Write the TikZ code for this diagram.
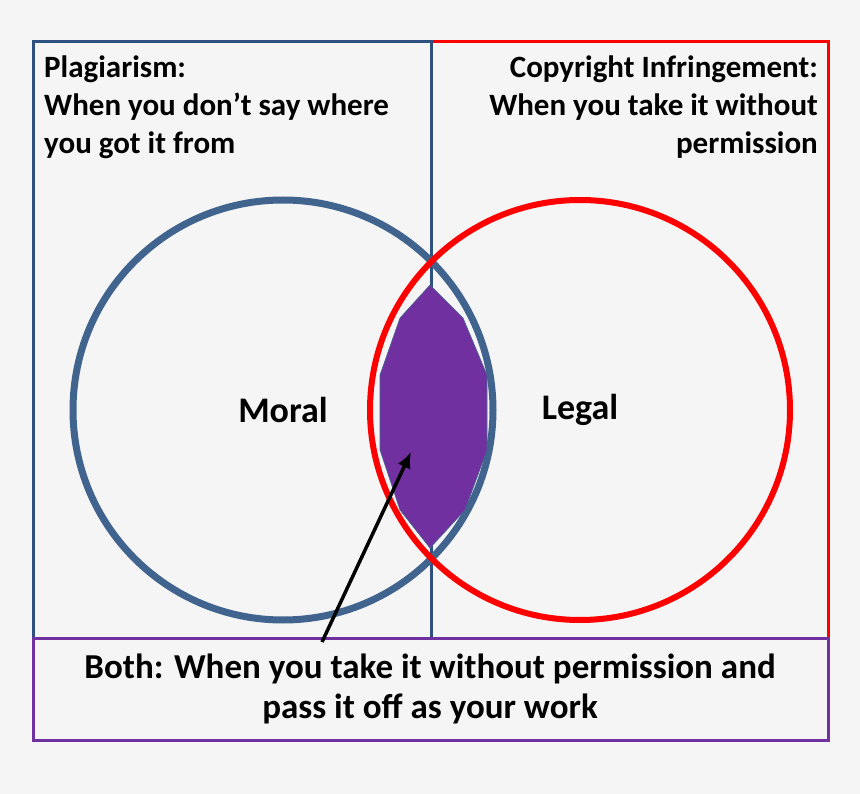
\documentclass[tikz,border=0pt]{standalone}
\usepackage{fontspec}
\setmainfont{Carlito}
\usetikzlibrary{arrows.meta}
\begin{document}
\begin{tikzpicture}[x=1pt,y=-1pt,
  txt/.style={font=\bfseries\fontsize{31}{38}\selectfont, text=black, inner sep=0pt},
  lbl/.style={font=\bfseries\fontsize{36}{40}\selectfont, text=black}]
\definecolor{bg}{HTML}{F5F5F5}
\definecolor{bl}{HTML}{2E5180}
\definecolor{cb}{HTML}{41648F}
\definecolor{rd}{HTML}{FF0000}
\definecolor{pu}{HTML}{7030A0}
\fill[bg] (0,0) rectangle (860,794);
\useasboundingbox (0,0) rectangle (860,794);
\draw[rd,line width=3pt] (431,42) rectangle (828,638);
\draw[bl,line width=3pt] (33,42) rectangle (431,638);
\draw[pu,line width=3pt] (33,638) rectangle (828,740);
\draw[cb,line width=7pt] (283,410) circle (210);
\draw[rd,line width=6pt] (580,410) circle (210);
\fill[pu] (430,285)--(463,318)--(487,375)--(487,450)--(465,510)--(430,548)--(400,510)--(380,450)--(380,375)--(400,318)--cycle;
\draw[cb,line width=0.6pt] (430,285)--(463,318)--(487,375)--(487,450)--(465,510)--(430,548)--(400,510)--(380,450)--(380,375)--(400,318)--cycle;
\node[lbl] (m) at (283,410) {Moral};
\node[lbl] (l) at (580,410) {Legal};
\node[txt,anchor=north west,align=left] (p) at (44,56) {Plagiarism:\\When you don’t say where\\you got it from};
\node[txt,anchor=north east,align=right] (c) at (818,56) {Copyright Infringement:\\When you take it without\\permission};
\node[font=\bfseries\fontsize{35}{40}\selectfont,align=center] (b) at (430,689) {Both: When you take it without permission and\\pass it off as your work};
\coordinate (a0) at (322,642);
\coordinate (a1) at (411,452);
\draw[line width=3.5pt,-{Latex[length=16pt,width=14pt]}] (a0)--(a1);
\end{tikzpicture}
\end{document}
